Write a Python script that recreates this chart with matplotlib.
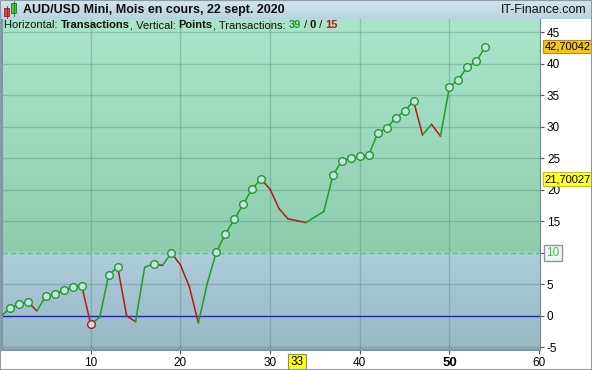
import numpy as np
import matplotlib
matplotlib.use("Agg")
import matplotlib.pyplot as plt
from matplotlib.colors import LinearSegmentedColormap
from matplotlib.patches import Rectangle
from matplotlib.transforms import blended_transform_factory

plt.rcParams['font.family'] = ['Liberation Sans', 'DejaVu Sans']

# donnees
transactions = list(range(55))
points = [0.0, 1.2, 1.9, 2.2, 0.8, 3.2, 3.5, 4.1, 4.6, 4.7,
          -1.3, -0.2, 6.5, 7.8, 0.0, -0.9, 7.7, 8.3, 8.0, 10.0,
          8.1, 4.6, -1.1, 5.2, 10.1, 13.0, 15.3, 17.7, 20.2, 21.7,
          20.1, 17.0, 15.4, 15.1, 14.8, 15.7, 16.6, 22.3, 24.6, 25.0,
          25.3, 25.5, 29.0, 29.8, 31.4, 32.5, 34.1, 28.7, 30.4, 28.5,
          36.3, 37.5, 39.5, 40.4, 42.70042]
y_ticks = [-5, 0, 5, 10, 15, 20, 25, 30, 35, 40, 45]
x_ticks = [10, 20, 30, 40, 50, 60]
titre = "AUD/USD Mini, Mois en cours, 22 sept. 2020"
site = "IT-Finance.com"
nb_hausse, nb_neutre, nb_baisse = 39, 0, 15
seuil = 10
dernier = "42,70042"
plus_haut = "21,70027"
marque_x = 33

W, H = 592, 370
fig = plt.figure(figsize=(W / 100, H / 100), dpi=100)
fig.patch.set_facecolor("white")

ymin, ymax = -5.4, 47.1
xmin, xmax = 0.1, 60.1
ax = fig.add_axes([2 / W, 1 - 350 / H, 538 / W, 331 / H])

# fonds en degrade
vert = LinearSegmentedColormap.from_list("v", ["#8fcdae", "#aae5cb"])
bleu = LinearSegmentedColormap.from_list("b", ["#9ab7c4", "#accdda"])
grad = np.linspace(0, 1, 100).reshape(-1, 1)
ax.imshow(grad, cmap=vert, origin="lower", aspect="auto",
          extent=[xmin, xmax, seuil, ymax], zorder=0)
ax.imshow(grad, cmap=bleu, origin="lower", aspect="auto",
          extent=[xmin, xmax, ymin, seuil], zorder=0)

for t in x_ticks[:-1]:
    ax.axvline(t, color="#4f7f7a", alpha=0.35, lw=1, zorder=1)
for t in y_ticks:
    if t not in (0, seuil):
        ax.axhline(t, color="#4f7f7a", alpha=0.35, lw=1, zorder=1)
ax.axhline(0, color="#1c1ce6", lw=1, zorder=2)
ax.axhline(seuil, color="#4fcf6a", lw=1, ls=(0, (4, 2)), zorder=2)

# segments vert / rouge
for i in range(1, len(points)):
    c = "#1e9e1e" if points[i] >= points[i - 1] else "#b41818"
    ax.plot(transactions[i - 1:i + 1], points[i - 1:i + 1], color=c, lw=1.1,
            zorder=3, solid_capstyle="round")

# cercles sur les nouveaux plus hauts / plus bas
haut, bas = points[0], points[0]
for x, y in zip(transactions[1:], points[1:]):
    if y > haut:
        haut = y
        ax.plot(x, y, "o", ms=5.5, mfc="#c9dff0", mec="#1e9e1e", mew=1, zorder=4)
    elif y < bas:
        bas = y
        ax.plot(x, y, "o", ms=5.5, mfc="#c9dff0", mec="#b41818", mew=1, zorder=4)

ax.set_xlim(xmin, xmax)
ax.set_ylim(ymin, ymax)
ax.yaxis.tick_right()
ax.set_yticks(y_ticks)
ax.set_xticks(x_ticks)
ax.set_yticklabels([str(t) for t in y_ticks])
ax.tick_params(axis="y", length=3, pad=2, labelsize=8.5, color="#555555")
ax.tick_params(axis="x", length=3, pad=2, labelsize=8.5, color="#555555")
for lab in ax.get_xticklabels():
    if lab.get_text() == "50":
        lab.set_fontweight("bold")
        lab.set_fontsize(9.5)
for lab in ax.get_yticklabels():
    if lab.get_text() == str(seuil):
        lab.set_visible(False)
for s in ["left", "bottom"]:
    ax.spines[s].set_color("#7d98a4")
    ax.spines[s].set_linewidth(1.5)
ax.spines["right"].set_color("#6f858f")
ax.spines["top"].set_visible(False)

tr = blended_transform_factory(ax.transAxes, ax.transData)
ax.text(1.008, 42.70042, dernier, transform=tr, va="center", ha="left", fontsize=8,
        clip_on=False, bbox=dict(boxstyle="square,pad=0.15", fc="#f5c518", ec="#b89010", lw=0.8))
ax.text(1.008, 21.7, plus_haut, transform=tr, va="center", ha="left", fontsize=8,
        clip_on=False, bbox=dict(boxstyle="square,pad=0.15", fc="#ffff30", ec="#c8c800", lw=0.8))
ax.text(1.012, seuil, str(seuil), transform=tr, va="center", ha="left", fontsize=8.5,
        color="#3cc43c", clip_on=False,
        bbox=dict(boxstyle="square,pad=0.2", fc="#f4f4f4", ec="#8a9aa4", lw=1))
trx = blended_transform_factory(ax.transData, ax.transAxes)
ax.text(marque_x, -0.036, str(marque_x), transform=trx, va="center", ha="center", fontsize=8.5,
        clip_on=False, bbox=dict(boxstyle="square,pad=0.2", fc="#ffff00", ec="#8a8a8a", lw=0.8))

# barre de titre
axt = fig.add_axes([0, 1 - 19 / H, 1, 19 / H])
axt.axis("off")
barre = LinearSegmentedColormap.from_list("t", ["#b8d3e0", "#d3e6f0"])
axt.imshow(grad, cmap=barre, origin="lower", aspect="auto", extent=[0, W, 19, 0])
axt.set_xlim(0, W)
axt.set_ylim(19, 0)
axt.add_patch(Rectangle((4, 8), 5, 8, fc="#e84040", ec="#902020", lw=0.6))
axt.plot([6.5, 6.5], [6, 18], color="#902020", lw=0.6)
axt.add_patch(Rectangle((11, 3), 5, 10, fc="#40d040", ec="#207020", lw=0.6))
axt.plot([13.5, 13.5], [1, 16], color="#207020", lw=0.6)
axt.text(23, 13, titre, fontsize=9, fontweight="bold", va="baseline", ha="left", color="#111111")
axt.text(587, 13, site, fontsize=9, va="baseline", ha="right", color="#111111")

# ligne d'information
morceaux = [("Horizontal: ", "#111111", "normal"), ("Transactions", "#111111", "bold"),
            (", Vertical: ", "#111111", "normal"), ("Points", "#111111", "bold"),
            (", Transactions: ", "#111111", "normal"), (str(nb_hausse), "#1e9e1e", "bold"),
            (" / ", "#111111", "normal"), (str(nb_neutre), "#111111", "bold"),
            (" / ", "#111111", "normal"), (str(nb_baisse), "#b41818", "bold")]
rend = fig.canvas.get_renderer()
x = 4 / W
for txt, cor, peso in morceaux:
    t = fig.text(x, 1 - 28 / H, txt, color=cor, fontweight=peso, fontsize=8,
                 va="baseline", ha="left")
    x += t.get_window_extent(renderer=rend).width / fig.bbox.width

fig.patches.append(Rectangle((0, 0), 1, 1, transform=fig.transFigure, fill=False,
                             ec="#8a9aa8", lw=1.5))

fig.savefig("out.png", dpi=100)
